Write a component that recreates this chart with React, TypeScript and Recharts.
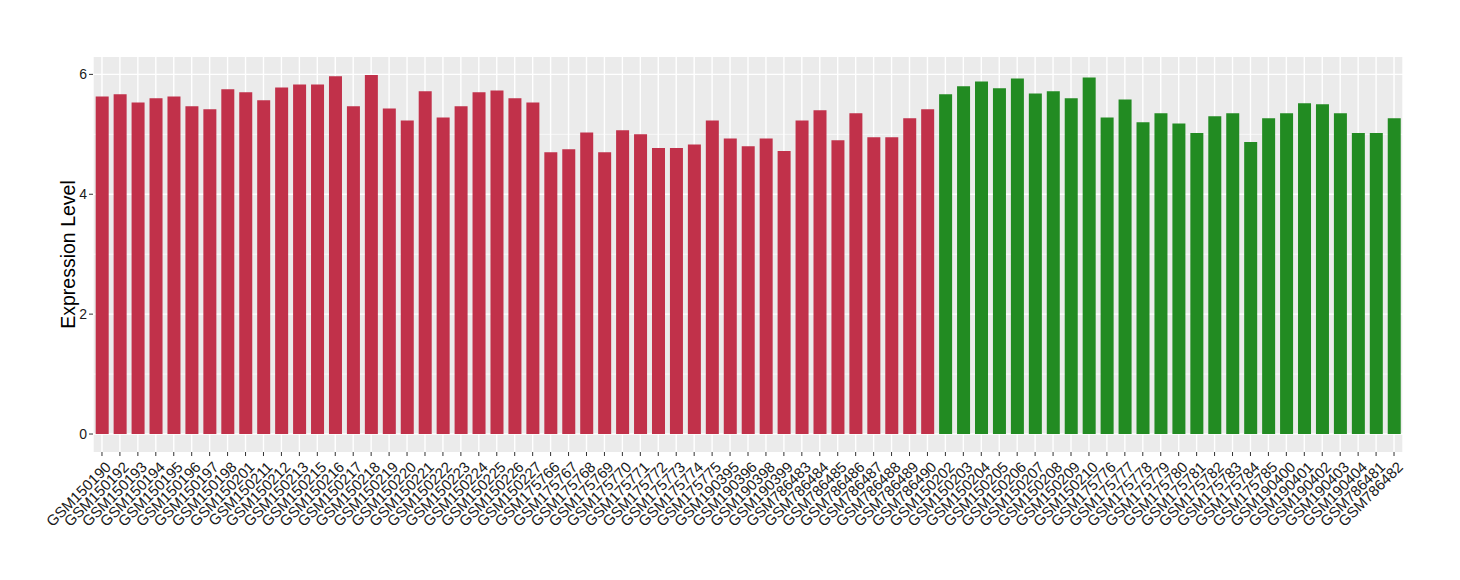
import React from "react";
import { BarChart, Bar, XAxis, YAxis, CartesianGrid, Cell } from "recharts";

const samples = [
  "GSM150190","GSM150192","GSM150193","GSM150194","GSM150195","GSM150196","GSM150197","GSM150198","GSM150201","GSM150211",
  "GSM150212","GSM150213","GSM150215","GSM150216","GSM150217","GSM150218","GSM150219","GSM150220","GSM150221","GSM150222",
  "GSM150223","GSM150224","GSM150225","GSM150226","GSM150227","GSM175766","GSM175767","GSM175768","GSM175769","GSM175770",
  "GSM175771","GSM175772","GSM175773","GSM175774","GSM175775","GSM190395","GSM190396","GSM190398","GSM190399","GSM786483",
  "GSM786484","GSM786485","GSM786486","GSM786487","GSM786488","GSM786489","GSM786490",
  "GSM150202","GSM150203","GSM150204","GSM150205","GSM150206","GSM150207","GSM150208","GSM150209","GSM150210","GSM175776",
  "GSM175777","GSM175778","GSM175779","GSM175780","GSM175781","GSM175782","GSM175783","GSM175784","GSM175785","GSM190400",
  "GSM190401","GSM190402","GSM190403","GSM190404","GSM786481","GSM786482",
];

const values = [
  5.63, 5.67, 5.53, 5.6, 5.63, 5.47, 5.42, 5.75, 5.7, 5.57,
  5.78, 5.83, 5.83, 5.97, 5.47, 5.99, 5.43, 5.23, 5.72, 5.28,
  5.47, 5.7, 5.73, 5.6, 5.53, 4.7, 4.75, 5.03, 4.7, 5.07,
  5.0, 4.77, 4.77, 4.83, 5.23, 4.93, 4.8, 4.93, 4.72, 5.23,
  5.4, 4.9, 5.35, 4.95, 4.95, 5.27, 5.42,
  5.67, 5.8, 5.88, 5.77, 5.93, 5.68, 5.72, 5.6, 5.95, 5.28,
  5.58, 5.2, 5.35, 5.18, 5.02, 5.3, 5.35, 4.87, 5.27, 5.35,
  5.52, 5.5, 5.35, 5.02, 5.02, 5.27,
];

const groupSizes = [47, 26];
const groupColors = ["#C1314A", "#228B22"];

const yMajorTicks = [0, 2, 4, 6];
const yMinorTicks = [1, 3, 5];
const yDomain = [-0.3, 6.29];
const yTitle = "Expression Level";

const FONT = "'Liberation Sans', Arial, Helvetica, sans-serif";

const data = samples.map((s, i) => ({
  name: s,
  value: values[i],
  group: i < groupSizes[0] ? 0 : 1,
}));

const XTick = (props: any) => {
  const { x, y, payload } = props;
  const px = x + 10;
  const py = y + 10;
  return (
    <text
      x={px}
      y={py}
      transform={`rotate(-45, ${px}, ${py})`}
      textAnchor="end"
      fontSize={15}
      fill="#1A1A1A"
      fontFamily={FONT}
    >
      {payload.value}
    </text>
  );
};

const YTick = (props: any) => {
  const { x, y, payload } = props;
  return (
    <text
      x={x}
      y={y}
      dy={5}
      textAnchor="end"
      fontSize={14}
      fill="#1A1A1A"
      fontFamily={FONT}
    >
      {payload.value}
    </text>
  );
};

const YTitle = (props: any) => {
  const vb = props.viewBox || {};
  const cx = 75;
  const cy = (vb.y ?? 57) + (vb.height ?? 395) / 2;
  return (
    <text
      x={cx}
      y={cy}
      transform={`rotate(-90, ${cx}, ${cy})`}
      textAnchor="middle"
      fontSize={19.5}
      fill="#000"
      fontFamily={FONT}
    >
      {yTitle}
    </text>
  );
};

export default function App() {
  return (
    <div style={{ position: "absolute", left: 0, top: 0, width: 1460, height: 580, background: "#fff" }}>
      <BarChart
        width={1460}
        height={580}
        data={data}
        margin={{ top: 57, right: 57, bottom: 0, left: 0 }}
        barCategoryGap="15%"
      >
        <CartesianGrid
          fill="#EBEBEB"
          stroke="#FFFFFF"
          strokeWidth={1.4}
          horizontal={false}
          vertical={true}
        />
        <CartesianGrid
          stroke="#FFFFFF"
          strokeWidth={0.7}
          vertical={false}
          horizontalValues={yMinorTicks}
        />
        <CartesianGrid
          stroke="#FFFFFF"
          strokeWidth={1.4}
          vertical={false}
          horizontalValues={yMajorTicks}
        />
        <XAxis
          dataKey="name"
          type="category"
          interval={0}
          height={128}
          axisLine={false}
          tickSize={4}
          tickLine={{ stroke: "#333333", strokeWidth: 1 }}
          tick={<XTick />}
        />
        <YAxis
          type="number"
          domain={yDomain}
          ticks={yMajorTicks}
          allowDataOverflow
          width={93}
          axisLine={false}
          tickSize={4}
          tickLine={{ stroke: "#333333", strokeWidth: 1 }}
          tick={<YTick />}
          label={<YTitle />}
        />
        <Bar dataKey="value" isAnimationActive={false}>
          {data.map((d, i) => (
            <Cell key={i} fill={groupColors[d.group]} />
          ))}
        </Bar>
      </BarChart>
    </div>
  );
}
